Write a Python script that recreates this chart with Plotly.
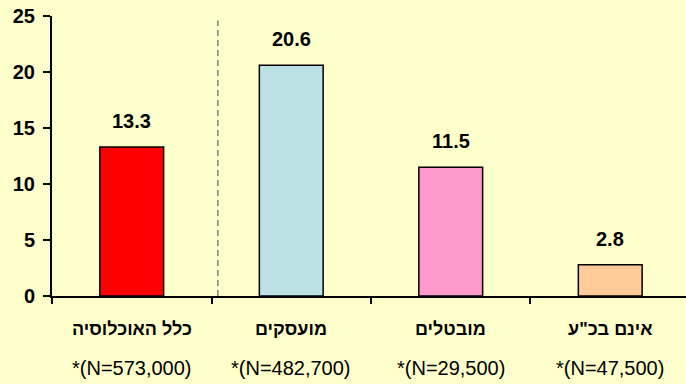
import plotly.graph_objects as go

categories = ["כלל האוכלוסיה", "מועסקים", "מובטלים", "אינם בכ\"ע"]
n_labels = ["*(N=573,000)", "*(N=482,700)", "*(N=29,500)", "*(N=47,500)"]
values = [13.3, 20.6, 11.5, 2.8]
colors = ["#FF0000", "#BDE2E6", "#FF99CC", "#FFCC99"]
y_ticks = [0, 5, 10, 15, 20, 25]

xs = list(range(len(categories)))
bg = "#FFFFCC"
font = "Arial, Liberation Sans, sans-serif"

fig = go.Figure()
fig.add_trace(go.Bar(
    x=xs, y=values, width=0.4,
    marker=dict(color=colors, line=dict(color="black", width=1.5)),
    hoverinfo="skip",
))

for x, v in zip(xs, values):
    fig.add_annotation(x=x, y=v, xref="x", yref="y", text=f"<b>{v}</b>",
                       showarrow=False, yshift=26, yanchor="middle",
                       font=dict(family=font, size=20, color="black"))

for x, c, n in zip(xs, categories, n_labels):
    fig.add_annotation(x=x, y=0, xref="x", yref="paper", text=f"<b>{c}</b>",
                       showarrow=False, yshift=-33, yanchor="middle",
                       font=dict(family=font, size=18, color="black"))
    fig.add_annotation(x=x, y=0, xref="x", yref="paper", text=n,
                       showarrow=False, yshift=-72, yanchor="middle",
                       font=dict(family=font, size=20, color="black"))

fig.add_shape(type="line", xref="x", yref="y", x0=0.54, x1=0.54, y0=0, y1=24.6,
              line=dict(color="#808080", width=1.5, dash="6px,4px"))

fig.update_layout(
    width=686, height=384,
    margin=dict(l=52, r=0, t=16, b=88),
    paper_bgcolor=bg, plot_bgcolor=bg,
    showlegend=False,
    xaxis=dict(range=[-0.5, 3.475], tickvals=[-0.5, 0.5, 1.5, 2.5],
               ticktext=["", "", "", ""], ticks="outside", ticklen=6, tickwidth=1.5,
               tickcolor="black", showline=True, linecolor="black", linewidth=2,
               showgrid=False, zeroline=False, fixedrange=True),
    yaxis=dict(range=[0, 25], tickvals=y_ticks,
               ticktext=[f"<b>{t}</b>" for t in y_ticks],
               ticks="outside", ticklen=7, tickcolor="black", tickwidth=1.5,
               ticklabelstandoff=4,
               showline=True, linecolor="black", linewidth=2,
               showgrid=False, zeroline=False,
               tickfont=dict(family=font, size=20, color="black")),
)

fig.write_html("out.html")
